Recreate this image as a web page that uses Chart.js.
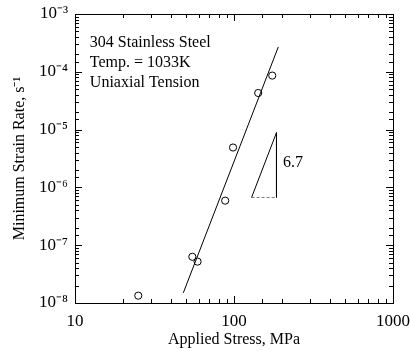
<!DOCTYPE html>
<html>
<head>
<meta charset="utf-8">
<script src="https://cdn.jsdelivr.net/npm/chart.js@4/dist/chart.umd.min.js"></script>
<style>
  body { margin: 0; background: #fff; }
  canvas { display: block; }
</style>
</head>
<body>
<canvas id="creep-chart" width="410" height="351"></canvas>
<script>
// measured points: applied stress (MPa) vs minimum strain rate (1/s)
const stress = [25, 54.7, 59, 88, 98.6, 142, 174];
const strainRate = [1.34e-8, 6.3e-8, 5.2e-8, 5.9e-7, 4.9e-6, 4.3e-5, 8.6e-5];

// fitted power-law line, drawn between its two ends
const fitStress = [48, 190];
const fitRate = [1.5e-8, 2.7e-4];

// slope triangle
const triStress = [129, 185, 185];
const triRate = [6.7e-7, 8.85e-6, 6.7e-7];
const slopeLabel = '6.7';
const slopeLabelAt = [203, 2.64e-6];

const noteLines = ['304 Stainless Steel', 'Temp. = 1033K', 'Uniaxial Tension'];
const noteAt = [12.4, 3.2e-4];

const xTickValues = [10, 100, 1000];
const xTickLabels = ['10', '100', '1000'];
const yTickValues = [1e-8, 1e-7, 1e-6, 1e-5, 1e-4, 1e-3];
const yTickLabels = ['10⁻⁸', '10⁻⁷', '10⁻⁶', '10⁻⁵', '10⁻⁴', '10⁻³'];

const serif = '"Liberation Serif", "Times New Roman", serif';

function toXY(xs, ys) {
    return xs.map((x, i) => ({ x: x, y: ys[i] }));
}

function labelFor(values, labels, v) {
    const i = values.findIndex(t => Math.abs(Math.log10(t) - Math.log10(v)) < 1e-6);
    return i >= 0 ? labels[i] : '';
}

function isDecade(v) {
    const l = Math.log10(v);
    return Math.abs(l - Math.round(l)) < 1e-6;
}

// box, inward ticks on all four sides, and the text notes
const framePlugin = {
    id: 'frame',
    afterDraw(chart) {
        const ctx = chart.ctx;
        const a = chart.chartArea;
        const xs = chart.scales.x;
        const ys = chart.scales.y;
        ctx.save();
        ctx.strokeStyle = '#000';
        ctx.lineWidth = 1;
        ctx.strokeRect(a.left + 0.5, a.top + 0.5, a.right - a.left, a.bottom - a.top);

        ctx.beginPath();
        xs.ticks.forEach(t => {
            const px = Math.round(xs.getPixelForValue(t.value)) + 0.5;
            const len = isDecade(t.value) ? 7 : 4;
            ctx.moveTo(px, a.bottom);
            ctx.lineTo(px, a.bottom - len);
            ctx.moveTo(px, a.top);
            ctx.lineTo(px, a.top + len);
        });
        ys.ticks.forEach(t => {
            const py = Math.round(ys.getPixelForValue(t.value)) + 0.5;
            const len = isDecade(t.value) ? 7 : 4;
            ctx.moveTo(a.left, py);
            ctx.lineTo(a.left + len, py);
            ctx.moveTo(a.right, py);
            ctx.lineTo(a.right - len, py);
        });
        ctx.stroke();

        ctx.fillStyle = '#000';
        ctx.font = '16px ' + serif;
        ctx.textBaseline = 'middle';
        ctx.textAlign = 'left';
        const nx = xs.getPixelForValue(noteAt[0]);
        const ny = ys.getPixelForValue(noteAt[1]);
        noteLines.forEach((line, i) => ctx.fillText(line, nx, ny + i * 20));

        ctx.fillText(slopeLabel, xs.getPixelForValue(slopeLabelAt[0]), ys.getPixelForValue(slopeLabelAt[1]));
        ctx.restore();
    }
};

const tickFont = { family: serif, size: 17 };
const titleFont = { family: serif, size: 16 };

new Chart(document.getElementById('creep-chart'), {
    type: 'scatter',
    data: {
        datasets: [
            {
                data: toXY(stress, strainRate),
                pointStyle: 'circle',
                pointRadius: 3.6,
                pointBorderWidth: 1,
                pointBorderColor: '#000',
                pointBackgroundColor: 'rgba(0,0,0,0)',
                showLine: false
            },
            {
                data: toXY(fitStress, fitRate),
                showLine: true,
                borderColor: '#000',
                borderWidth: 1,
                pointRadius: 0
            },
            {
                data: toXY(triStress, triRate),
                showLine: true,
                borderColor: '#000',
                borderWidth: 1,
                pointRadius: 0
            },
            {
                data: toXY([triStress[0], triStress[2]], [triRate[0], triRate[2]]),
                showLine: true,
                borderColor: '#777',
                borderWidth: 1,
                borderDash: [3, 2],
                pointRadius: 0
            }
        ]
    },
    options: {
        responsive: false,
        devicePixelRatio: 1,
        animation: false,
        layout: { padding: { left: 0, right: 17, top: 14, bottom: 0 } },
        plugins: {
            legend: { display: false },
            tooltip: { enabled: false }
        },
        scales: {
            x: {
                type: 'logarithmic',
                min: 10,
                max: 1000,
                grid: { display: false, drawTicks: false },
                border: { display: false },
                ticks: {
                    autoSkip: false,
                    maxRotation: 0,
                    padding: 8,
                    color: '#000',
                    font: tickFont,
                    callback: v => labelFor(xTickValues, xTickLabels, v)
                },
                title: {
                    display: true,
                    text: 'Applied Stress, MPa',
                    color: '#000',
                    font: titleFont,
                    padding: { top: 0, bottom: 2 }
                },
                afterFit(scale) {
                    scale.height = 48;
                    scale.paddingLeft = 0;
                    scale.paddingRight = 0;
                }
            },
            y: {
                type: 'logarithmic',
                min: 1e-8,
                max: 1e-3,
                grid: { display: false, drawTicks: false },
                border: { display: false },
                ticks: {
                    autoSkip: false,
                    padding: 7,
                    color: '#000',
                    font: tickFont,
                    callback: v => labelFor(yTickValues, yTickLabels, v)
                },
                title: {
                    display: true,
                    text: 'Minimum Strain Rate, s⁻¹',
                    color: '#000',
                    font: titleFont,
                    padding: { top: 10, bottom: 0 }
                },
                afterFit(scale) {
                    scale.width = 75;
                    scale.paddingTop = 0;
                    scale.paddingBottom = 0;
                }
            }
        }
    },
    plugins: [framePlugin]
});
</script>
</body>
</html>
